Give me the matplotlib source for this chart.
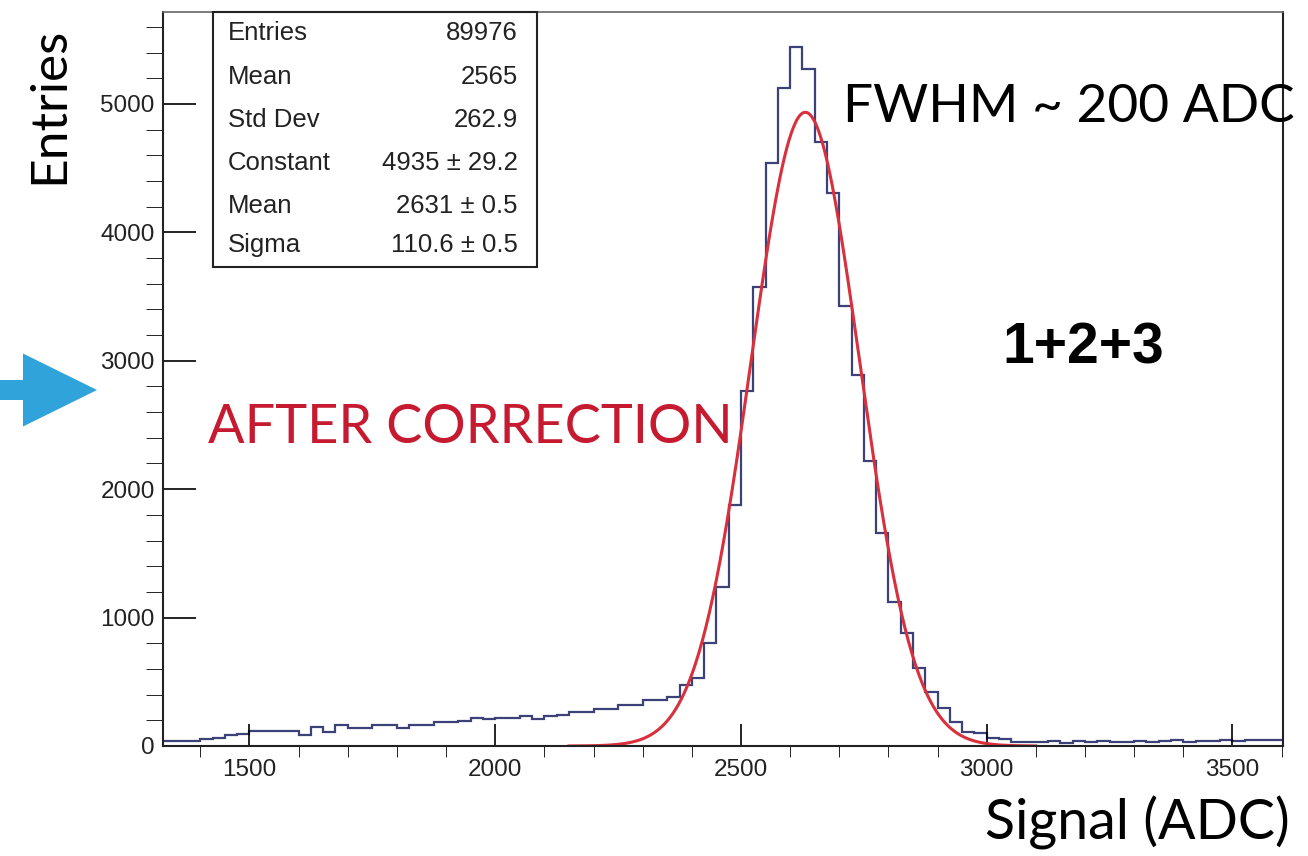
import matplotlib
matplotlib.use("Agg")
import matplotlib.pyplot as plt
from matplotlib.patches import Rectangle, FancyArrow
import numpy as np

# histogram: 25 ADC bins starting at 1300
bin_lo = 1300
bin_w = 25
counts = [40, 40, 40, 42, 55, 62, 85, 90, 118, 120,
          119, 118, 82, 148, 111, 160, 138, 140, 163, 162,
          138, 163, 165, 187, 186, 197, 215, 214, 216, 215,
          231, 210, 236, 238, 262, 264, 288, 290, 319, 321,
          358, 360, 379, 475, 530, 800, 1237, 1875, 2765, 3572,
          4537, 5126, 5447, 5276, 4700, 4303, 3424, 2887, 2218, 1657,
          1121, 879, 607, 420, 296, 187, 110, 105, 62, 55,
          35, 33, 28, 36, 25, 38, 30, 40, 28, 34,
          42, 30, 38, 45, 33, 40, 36, 48, 42, 45,
          44, 46]

# gaus fit parameters (from the stats box)
fit_const = 4935
fit_mean = 2631
fit_sigma = 110.6
fit_range = (2150, 3100)

stat_names = ["Entries", "Mean", "Std Dev", "Constant", "Mean", "Sigma"]
stat_values = ["89976", "2565", "262.9", "4935 \u00b1 29.2", "2631 \u00b1 0.5", "110.6 \u00b1 0.5"]

W, H = 1308, 856
fig = plt.figure(figsize=(W / 100, H / 100), dpi=100)
ax = fig.add_axes([163 / W, 1 - 746 / H, (1283 - 163) / W, (746 - 12) / H])

def fx(px):
    return px / W

def fy(py):
    return 1 - py / H

edges = bin_lo + bin_w * np.arange(len(counts) + 1)
ax.stairs(counts, edges, baseline=None, color="#3c4178", lw=1.6)

xf = np.linspace(fit_range[0], fit_range[1], 400)
yf = fit_const * np.exp(-0.5 * ((xf - fit_mean) / fit_sigma) ** 2)
ax.plot(xf, yf, color="#d8303c", lw=2.2)

ax.set_xlim(1324, 3603)
ax.set_ylim(0, 5716)

ax.set_xticks([1500, 2000, 2500, 3000, 3500])
ax.set_xticks(np.arange(1400, 3601, 100), minor=True)
ax.set_yticks([0, 1000, 2000, 3000, 4000, 5000])
ax.set_yticks(np.arange(0, 5701, 200), minor=True)
ax.tick_params(direction="in", labelsize=17.5, labelcolor="#222222", width=1.2)
ax.tick_params(axis="x", which="major", length=16, pad=9)
ax.tick_params(axis="x", which="minor", length=8)
ax.tick_params(axis="y", which="major", length=24, pad=6)
ax.tick_params(axis="y", which="minor", length=12)
for lab in ax.get_xticklabels() + ax.get_yticklabels():
    lab.set_family("Liberation Sans")
for s in ax.spines.values():
    s.set_linewidth(1.5)
    s.set_color("#222222")
ax.spines["top"].set_color("#666666")
ax.spines["top"].set_linewidth(1.2)

# stats box
fig.patches.append(Rectangle((fx(213), fy(267)), (537 - 213) / W, (267 - 12) / H,
                             transform=fig.transFigure, fill=False,
                             edgecolor="#222222", lw=1.5))
row_y = [33, 77, 120, 163, 206, 245]
for name, val, py in zip(stat_names, stat_values, row_y):
    fig.text(fx(228), fy(py), name, ha="left", va="center", fontsize=18.5,
             family="Liberation Sans", color="#222222")
    fig.text(fx(518), fy(py), val, ha="right", va="center", fontsize=18.5,
             family="Liberation Sans", color="#222222")

# annotations
fig.text(fx(49), fy(105), "Entries", rotation=90, ha="center", va="center",
         fontsize=37, family="Lato")
fig.text(fx(1290), fy(840), "Signal (ADC)", ha="right", va="baseline",
         fontsize=40, family="Lato")
fig.text(fx(843), fy(122), "FWHM ~ 200 ADC", ha="left", va="baseline",
         fontsize=38.3, family="Lato")
fig.text(fx(208), fy(443), "AFTER CORRECTION", ha="left", va="baseline",
         fontsize=39, family="Lato", color="#c61a30")
fig.text(fx(1002), fy(363), "1+2+3", ha="left", va="baseline",
         fontsize=41, family="Liberation Sans", weight="bold")

# blue arrow pointing at the plot
fig.patches.append(FancyArrow(0, (H - 390) / 100, 0.97, 0, width=0.2,
                              head_width=0.73, head_length=0.74,
                              length_includes_head=True,
                              transform=fig.dpi_scale_trans,
                              color="#2fa3da", lw=0))

fig.savefig("out.png", dpi=100)
